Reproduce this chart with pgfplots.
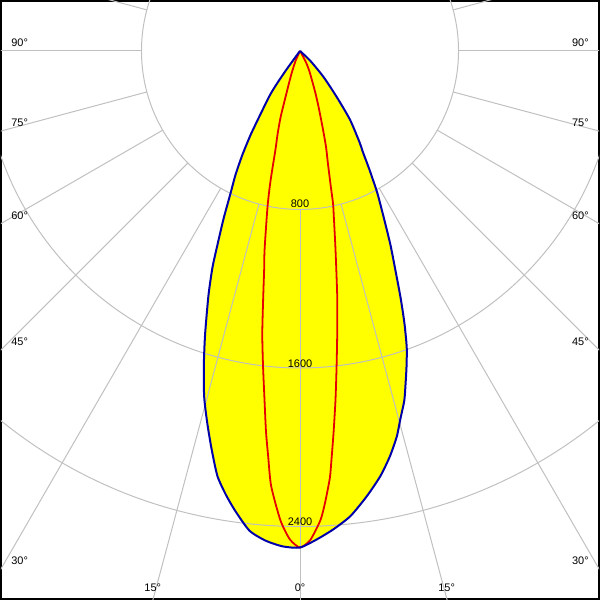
\documentclass[border=0pt]{standalone}
\usepackage{fontspec}
\setmainfont{Liberation Sans}
\usepackage{pgfplots}
\pgfplotsset{compat=1.18}
\definecolor{gridc}{RGB}{192,192,192}
\definecolor{curveblue}{RGB}{0,0,170}
\definecolor{curvered}{RGB}{230,0,0}
\definecolor{fillyellow}{RGB}{255,255,0}
\tikzset{lbl/.style={font=\fontsize{11}{13}\selectfont, inner sep=0pt}}
\begin{document}
\begin{tikzpicture}
\begin{axis}[
  scale only axis, width=600pt, height=600pt,
  xmin=-1509, xmax=1509, ymin=-2766, ymax=252,
  xtick=\empty, ytick=\empty,
  axis line style={black, line width=2pt},
]
% C0-C180 plane, filled
\addplot[fill=fillyellow, draw=none, smooth, tension=0.4, data cs=polar] coordinates {
(233.5,0) (234,120) (235,220) (236,280) (238,376) (239.5,490) (241,600) (242.5,705)
(244,800) (245.5,930) (247,1070) (248,1180) (249.5,1320) (251.5,1510) (253,1660)
(254.5,1810) (256,1935) (257.5,2060) (259,2185) (260.5,2270) (262,2345) (264,2435)
(266,2478) (268,2502) (270,2506)
(272,2466) (274,2420) (276.2,2361) (278.55,2272) (280.7,2184) (282.5,2096) (284.1,2006)
(285.2,1929) (286.6,1842) (287.5,1770) (288.6,1685) (289.8,1590) (291,1470) (292.2,1342)
(293.5,1208) (295,1080) (296.7,940) (298.5,820) (299.7,735) (300.5,683) (302,595)
(303,555) (306,430) (308.5,300) (312,180) (316,75) (319,0)
} -- cycle;
% grid
\draw[gridc, line width=1pt] (axis cs:0,0) circle[radius=800];
\draw[gridc, line width=1pt] (axis cs:0,0) circle[radius=1600];
\draw[gridc, line width=1pt] (axis cs:0,0) circle[radius=2400];
\pgfplotsinvokeforeach{165,180,195,210,225,240,255,270,285,300,315,330,345,360,375}{
  \draw[gridc, line width=1pt] (axis cs:{800*cos(#1)},{800*sin(#1)}) -- (axis cs:{4000*cos(#1)},{4000*sin(#1)});
}
% C90-C270 plane
\addplot[curvered, line width=1.8pt, no markers, smooth, tension=0.4, data cs=polar] coordinates {
(244,0) (246,55) (249,110) (250.5,150) (252.5,240) (253.7,350) (255,440) (256,510)
(257.2,670) (258.2,800) (259.9,1020) (260.7,1120) (261.5,1256) (262.4,1440) (263.3,1600)
(264.2,1772) (264.9,1930) (265.5,2050) (266.2,2200) (267.6,2370) (268.8,2465) (270,2506)
(271.2,2469) (272.5,2370) (273.2,2280) (274,2160) (274.4,2070) (275,1939) (275.8,1772)
(276.6,1606) (277.5,1439) (278.6,1257) (280.1,1023) (281.5,857) (282.2,790) (282.9,689)
(284,580) (285.2,500) (286.5,400) (288.3,300) (290,230) (292,165) (295,110) (298,60) (300,0)
};
\addplot[curveblue, line width=2pt, no markers, smooth, tension=0.4, data cs=polar] coordinates {
(233.5,0) (234,120) (235,220) (236,280) (238,376) (239.5,490) (241,600) (242.5,705)
(244,800) (245.5,930) (247,1070) (248,1180) (249.5,1320) (251.5,1510) (253,1660)
(254.5,1810) (256,1935) (257.5,2060) (259,2185) (260.5,2270) (262,2345) (264,2435)
(266,2478) (268,2502) (270,2506)
(272,2466) (274,2420) (276.2,2361) (278.55,2272) (280.7,2184) (282.5,2096) (284.1,2006)
(285.2,1929) (286.6,1842) (287.5,1770) (288.6,1685) (289.8,1590) (291,1470) (292.2,1342)
(293.5,1208) (295,1080) (296.7,940) (298.5,820) (299.7,735) (300.5,683) (302,595)
(303,555) (306,430) (308.5,300) (312,180) (316,75) (319,0)
};
% labels
\node[lbl] at (axis cs:0,-773) {800};
\node[lbl] at (axis cs:0,-1579) {1600};
\node[lbl] at (axis cs:0,-2378) {2400};
\node[lbl] at (axis cs:-1415,42) {90°};
\node[lbl] at (axis cs:1415,42) {90°};
\node[lbl] at (axis cs:-1415,-361) {75°};
\node[lbl] at (axis cs:1415,-361) {75°};
\node[lbl] at (axis cs:-1415,-830) {60°};
\node[lbl] at (axis cs:1415,-830) {60°};
\node[lbl] at (axis cs:-1415,-1467) {45°};
\node[lbl] at (axis cs:1415,-1467) {45°};
\node[lbl] at (axis cs:-1415,-2574) {30°};
\node[lbl] at (axis cs:1415,-2574) {30°};
\node[lbl] at (axis cs:-743,-2708) {15°};
\node[lbl] at (axis cs:740,-2708) {15°};
\node[lbl] at (axis cs:0,-2708) {0°};
\end{axis}
\end{tikzpicture}
\end{document}
